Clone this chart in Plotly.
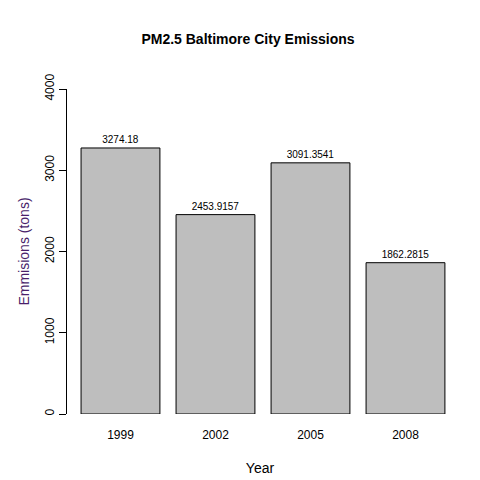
import plotly.graph_objects as go

years = ["1999", "2002", "2005", "2008"]
emissions = [3274.18, 2453.9157, 3091.3541, 1862.2815]
labels = ["3274.18", "2453.9157", "3091.3541", "1862.2815"]
yticks = [0, 1000, 2000, 3000, 4000]

fig = go.Figure(go.Bar(
    x=list(range(len(years))), y=emissions,
    marker=dict(color="#BEBEBE", line=dict(color="black", width=1)),
    text=labels, textposition="outside", textfont=dict(size=10, color="black"),
    cliponaxis=False, width=0.83,
))
fig.update_layout(
    width=480, height=480, plot_bgcolor="white", paper_bgcolor="white",
    margin=dict(l=59, r=35, t=81, b=74, autoexpand=False),
    font=dict(family="Liberation Sans, Arial", size=12, color="black"),
    title=dict(text="<b>PM2.5 Baltimore City Emissions</b>", x=0.5, xanchor="center",
               y=1 - 31/480, yanchor="middle", font=dict(size=14)),
    showlegend=False,
)
fig.update_xaxes(range=[-0.563, 3.5], tickvals=list(range(len(years))), ticktext=years,
                 showgrid=False, zeroline=False, showline=False, ticks="",
                 ticklabelstandoff=12, automargin=False,
                 title=dict(text="Year", standoff=22))
fig.update_yaxes(range=[0, 4000], tickvals=yticks, tickangle=-90, showgrid=False,
                 zeroline=False, showline=True, linecolor="black", linewidth=1,
                 ticks="outside", ticklen=7, tickcolor="black", automargin=False,
                 title=dict(text="Emmisions (tons)", font=dict(color="#4A1F6B"), standoff=10))
fig.write_html("out.html")
